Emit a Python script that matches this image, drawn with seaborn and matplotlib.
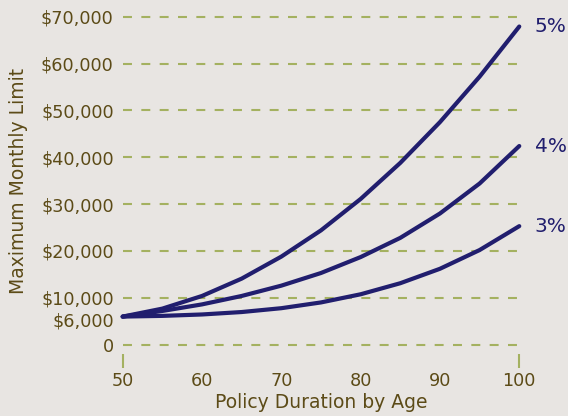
import matplotlib
matplotlib.use("Agg")
import matplotlib.pyplot as plt
import matplotlib.transforms as mtransforms
import pandas as pd
import seaborn as sns

# Benefit growth of a $6,000 monthly limit under compound inflation riders
ages = [50, 55, 60, 65, 70, 75, 80, 85, 90, 95, 100]
limit_5pct = [6000, 7700, 10400, 14100, 18800, 24400, 31100, 38800, 47500, 57200, 67900]
limit_4pct = [6000, 7200, 8600, 10400, 12600, 15300, 18700, 22800, 28000, 34400, 42400]
limit_3pct = [6000, 6150, 6450, 6970, 7790, 9020, 10760, 13120, 16200, 20200, 25300]
rate_labels = ["5%", "4%", "3%"]

y_ticks = [0, 6000, 10000, 20000, 30000, 40000, 50000, 60000, 70000]
y_tick_labels = ["0", "$6,000", "$10,000", "$20,000", "$30,000",
                 "$40,000", "$50,000", "$60,000", "$70,000"]
grid_levels = [0, 10000, 20000, 30000, 40000, 50000, 60000, 70000]
x_ticks = [50, 60, 70, 80, 90, 100]
x_end_ticks = [50, 100]

BG = "#e8e5e2"
TEXT = "#5c4b17"
GRID = "#a4b160"
LINE = "#211e6e"

df = pd.DataFrame({
    "age": ages * 3,
    "limit": limit_5pct + limit_4pct + limit_3pct,
    "rate": [r for r in rate_labels for _ in ages],
})

sns.set_style("white")
plt.rcParams["font.family"] = ["DejaVu Sans"]

fig = plt.figure(figsize=(5.68, 4.16), dpi=100, facecolor=BG)
ax = fig.add_axes([0.216, 0.1714, 0.6982, 0.7885], facecolor=BG)

# dashed horizontal guides
for lvl in grid_levels:
    ax.axhline(lvl, color=GRID, lw=1.5, linestyle=(0, (4.3, 4.5)),
               clip_on=False, zorder=1)

sns.lineplot(data=df, x="age", y="limit", hue="rate",
             palette={r: LINE for r in rate_labels}, linewidth=3,
             legend=False, ax=ax, zorder=3, clip_on=False)
for line in ax.get_lines():
    line.set_solid_capstyle("round")
    line.set_solid_joinstyle("round")

# rate labels at the end of each curve
for label, series in zip(rate_labels, [limit_5pct, limit_4pct, limit_3pct]):
    ax.annotate(label, xy=(ages[-1], series[-1]), xytext=(11, 0),
                textcoords="offset points", ha="left", va="center",
                fontsize=14.5, color=LINE, annotation_clip=False)

ax.set_xlim(50, 100)
ax.set_ylim(0, 70000)
for s in ax.spines.values():
    s.set_visible(False)

ax.set_yticks(y_ticks)
ax.set_yticklabels(y_tick_labels)
ax.tick_params(axis="y", length=0, pad=6.5, labelsize=12.7, labelcolor=TEXT)
# nudge the $6,000 label slightly down, away from $10,000
lab6 = ax.get_yticklabels()[1]
lab6.set_transform(lab6.get_transform() +
                   mtransforms.ScaledTranslation(0, -3 / 100, fig.dpi_scale_trans))

ax.set_xticks(x_ticks)
ax.tick_params(axis="x", length=0, pad=19.5, labelsize=12.7, labelcolor=TEXT)

# short end markers under the age axis, detached from the zero line
ax.vlines(x_end_ticks, -0.028, -0.072, transform=ax.get_xaxis_transform(),
          color=GRID, lw=1.5, clip_on=False)

ax.set_xlabel("Policy Duration by Age", fontsize=13.5, color=TEXT)
ax.set_ylabel("Maximum Monthly Limit", fontsize=13.5, color=TEXT)
ax.xaxis.set_label_coords(0.5, -0.148)
ax.yaxis.set_label_coords(-0.239, 0.5)

fig.savefig("out.png", dpi=100, facecolor=BG)
